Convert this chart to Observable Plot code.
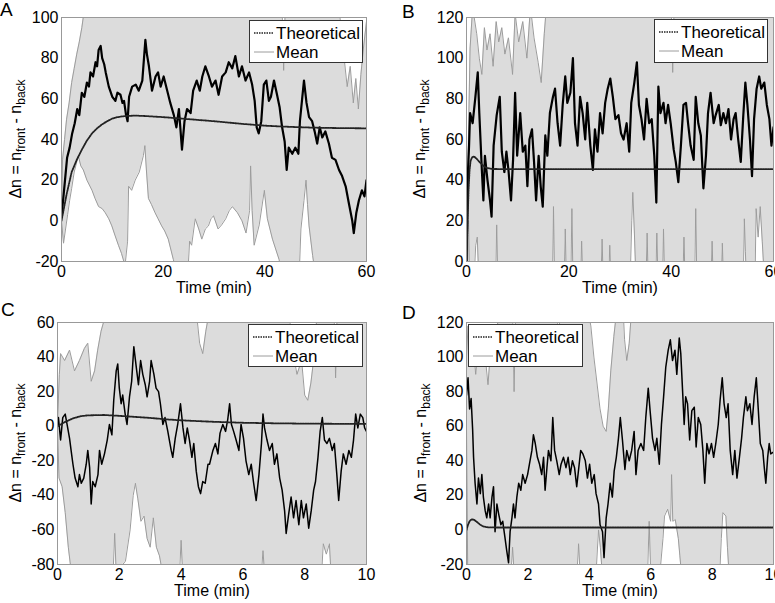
<!DOCTYPE html>
<html>
<head>
<meta charset="utf-8">
<script src="https://cdn.jsdelivr.net/npm/d3@7"></script>
<script src="https://cdn.jsdelivr.net/npm/@observablehq/plot@0.6"></script>
<style>
  body { margin: 0; background: #fff; font-family: "Liberation Sans", Arial, sans-serif; }
  #root { position: relative; width: 775px; height: 603px; overflow: hidden; }
  .panel { position: absolute; }
  .tag { position: absolute; font-size: 19px; line-height: 19px; color: #000; }
</style>
</head>
<body>
<div id="root"></div>
<script>
// ---- Panel A: 60 min run ----------------------------------------------
const meanA = [[0,2],[0.5,15],[1.1,31],[1.6,36],[2.1,43],[2.6,48],[3.1,55],[3.5,52],[4,63],[4.5,61],[5,68],[5.4,66],[5.7,73],[6.2,71],[6.7,78],[7,76],[7.3,84],[7.7,86],[8,80],[8.4,77],[8.7,73],[9.3,66],[10,61],[10.6,59],[11,63],[11.6,62],[12,58],[12.3,59],[12.7,52],[13,49],[13.3,61],[13.9,66],[14.6,67],[15.2,64],[15.9,69],[16.5,89],[16.8,82],[17.2,76],[17.8,64],[18.5,71],[19,73],[19.5,66],[20.1,71],[20.8,64],[21.4,58],[22.1,52],[22.6,46],[23.1,55],[23.7,35],[24.2,49],[24.7,55],[25.4,53],[25.9,64],[26.6,69],[27.2,64],[27.7,71],[28.3,76],[29,71],[29.6,66],[30.3,69],[30.9,62],[31.6,71],[32.3,73],[32.9,78],[33.6,75],[34.2,81],[34.9,71],[35.5,76],[36.2,69],[36.9,73],[37.5,67],[38,59],[38.4,46],[38.8,43],[39.3,49],[39.8,67],[40.3,69],[40.8,59],[41.2,61],[41.8,69],[42.4,62],[42.9,56],[43.4,46],[43.9,39],[44.3,25],[44.7,36],[45.4,33],[46,36],[46.6,33],[46.9,49],[47.3,59],[47.7,69],[48.2,58],[48.7,51],[49.3,49],[49.8,44],[50.3,38],[50.8,46],[51.3,41],[51.9,44],[52.6,38],[53.2,31],[53.9,30],[54.6,25],[55.2,22],[55.9,17],[56.5,9],[57.2,0],[57.5,-6],[58,4],[58.5,10],[59.1,15],[59.6,12],[60,20]];
const theoryA = [[0,0],[1,13],[2,24],[3,30],[4,35],[5,39.5],[6,43],[7,45.5],[8,47.5],[9,49],[10,50.3],[11,51],[12,51.4],[13,51.6],[14,51.7],[15,51.7],[16,51.6],[18,51.3],[20,51],[25,50],[30,49],[35,47.8],[40,46.8],[45,46.2],[50,45.8],[55,45.6],[60,45.5]];
const upperA = [[0,0],[0.2,30],[0.6,40],[1,50],[1.5,58],[2,68],[2.5,75],[3,82],[3.5,88],[4,95],[4.5,104],[43.4,104],[43.7,74],[44,104],[54.6,104],[55,95],[55.6,80],[56.2,66],[56.8,76],[57.4,58],[57.9,70],[58.4,55],[58.9,72],[59.4,85],[60,98]];
const lowerA = [[0,0],[0.4,-11],[0.8,-4],[1.2,3],[1.6,10],[2,16],[2.5,24],[3,29],[3.3,32],[3.8,27],[4.3,25],[5,20],[6,15],[6.6,11],[7.3,7],[8,6],[8.6,4],[9.3,1],[9.9,-2.5],[10.5,-7],[11.2,-12],[11.8,-16],[12.5,-22],[13,-10],[13.2,17],[13.8,15],[14.5,20],[15.3,24],[16.1,32],[16.4,37],[16.7,25],[17.1,11],[17.7,8],[18.4,4],[19,1],[19.7,-2.5],[20.3,-5],[21,-9],[22,-19],[22.5,-24],[24.9,-24],[25.2,-10],[25.6,-12],[26.3,1],[27,-4],[27.6,-9],[28.3,-4],[28.9,-2.5],[29.4,1],[29.9,2.5],[30.8,-4],[31.5,-2],[32.3,1],[33,5],[33.6,7],[34.6,4],[35.5,0],[36.3,-6],[37,5],[37.2,27],[37.5,5],[37.9,-12],[38.9,-2],[39.9,15],[40.5,1],[41.5,-9],[42.8,-19],[43.2,-24],[46.8,-24],[47.1,-4],[47.7,10],[48.1,20],[48.4,8],[48.7,-2.5],[49.4,-17],[49.8,-24],[60,-24]];

// ---- Panel B: 60 min run ----------------------------------------------
const meanB = [[0,0],[0.15,25],[0.3,45],[0.5,57],[0.7,73],[1.2,68],[1.7,80],[2.2,93],[2.5,73],[3,45],[3.3,30],[3.6,52],[4.1,40],[4.6,30],[4.9,22],[5.3,57],[5.9,72],[6.5,81],[6.9,54],[7.4,44],[7.8,54],[8.2,45],[8.7,30],[9.1,50],[9.5,83],[9.9,52],[10.5,73],[11,54],[11.5,57],[11.9,37],[12.3,60],[12.8,65],[13.2,49],[13.6,30],[14.1,52],[14.5,37],[14.9,27],[15.4,62],[15.8,52],[16.3,73],[16.9,81],[17.3,85],[17.8,68],[18.3,57],[18.8,77],[19.3,91],[19.7,78],[20.3,83],[20.8,100],[21.2,68],[21.7,57],[22.2,81],[22.7,73],[23.2,60],[23.6,78],[24.2,57],[24.7,45],[25.1,65],[25.6,54],[26.1,73],[26.6,63],[27.1,78],[27.6,85],[28.1,90],[28.6,81],[29.1,70],[29.7,72],[30.2,63],[30.7,60],[31.3,68],[31.8,54],[32.2,78],[32.8,88],[33.3,98],[33.7,77],[34.2,70],[34.7,60],[35.2,80],[35.7,68],[36.2,70],[36.7,52],[37.1,29],[37.5,86],[37.9,73],[38.5,78],[38.9,68],[39.4,77],[39.9,68],[40.5,55],[40.9,49],[41.4,39],[41.9,57],[42.4,77],[42.9,78],[43.3,68],[43.8,57],[44.4,50],[44.8,81],[45.3,68],[45.8,62],[46.3,36],[46.8,52],[47.2,73],[47.7,83],[48.3,68],[48.7,72],[49.3,77],[49.7,67],[50.2,73],[50.7,68],[51.2,75],[51.7,60],[52.2,70],[52.6,73],[53.1,60],[53.6,49],[54.1,72],[54.5,88],[54.9,77],[55.4,60],[55.8,42],[56.2,70],[56.7,85],[57.2,91],[57.6,85],[58.2,88],[58.7,77],[59.2,70],[59.6,57],[60,66]];
const theoryB = [[0,0],[0.2,18],[0.4,35],[0.6,45],[0.8,49.5],[1.1,51.3],[1.5,51.6],[2,50.5],[2.5,49],[3,47.8],[3.5,46.7],[4,46],[5,45.5],[10,45.4],[60,45.4]];
const upperB = [[0,0],[0.3,50],[0.7,105],[1.2,125],[2,112],[2.5,100],[3,92],[3.5,115],[4,104],[4.6,112],[5.2,96],[5.8,118],[6.3,108],[6.9,115],[7.5,102],[8.2,110],[9,92],[9.5,122],[10.2,108],[11,118],[11.8,100],[12.5,125],[13.2,110],[14,98],[14.6,88],[15.2,112],[15.7,128],[40,128],[40.3,93],[40.6,128],[60,128]];
const lowerB = [[0,0],[0.2,-5],[0.4,20],[0.6,-8],[1.5,-8],[1.8,8],[2.1,12],[2.4,-8],[5.7,-8],[5.9,18],[6.1,-8],[16.8,-8],[17,27],[17.2,-8],[19.1,-8],[19.3,16],[19.5,-8],[20.4,-8],[20.6,26],[20.8,-8],[22.3,-8],[22.5,10],[22.7,-8],[26.3,-8],[26.5,11],[26.7,-8],[27.8,-8],[28,8],[28.2,-8],[32,-8],[32.3,20],[32.5,34],[32.8,15],[33.1,-8],[35.1,-8],[35.3,14],[35.5,-8],[37,-8],[37.2,14],[37.4,-8],[38.3,-8],[38.5,16],[38.7,-8],[42.3,-8],[42.5,12],[42.7,-8],[44.6,-8],[44.8,26],[45,-8],[47.8,-8],[48,10],[48.2,-8],[49.8,-8],[50,9],[50.2,-8],[54.1,-8],[54.3,21],[54.5,5],[54.7,-8],[56.4,-8],[56.6,26],[57,12],[57.4,27],[57.8,10],[58.2,-8],[60,-8]];

// ---- Panel C: 10 min run ----------------------------------------------
const meanC = [[0,0],[0.03,5],[0.1,-8],[0.17,5],[0.25,7],[0.33,-1],[0.39,-7],[0.44,-14],[0.5,-22],[0.57,-30],[0.66,-35],[0.71,-28],[0.77,-33],[0.85,-30],[0.93,-22],[0.98,-14],[1.04,-24],[1.09,-45],[1.14,-32],[1.22,-35],[1.31,-28],[1.36,-14],[1.43,-22],[1.52,-16],[1.61,-8],[1.68,1],[1.76,-5],[1.82,15],[1.9,32],[1.95,36],[2,22],[2.06,13],[2.11,18],[2.19,7],[2.25,1],[2.33,17],[2.4,26],[2.47,46],[2.55,34],[2.62,24],[2.69,38],[2.76,30],[2.84,24],[2.9,17],[2.98,26],[3.03,38],[3.12,30],[3.19,22],[3.27,20],[3.33,13],[3.41,1],[3.48,5],[3.57,-3],[3.62,-8],[3.68,-14],[3.73,-18],[3.81,-7],[3.89,1],[3.98,13],[4.06,-1],[4.13,-10],[4.2,-1],[4.27,-8],[4.35,-18],[4.41,-10],[4.49,-26],[4.56,-35],[4.63,-39],[4.7,-32],[4.78,-33],[4.87,-22],[4.92,-22],[5.03,-14],[5.11,-10],[5.19,-16],[5.26,-4],[5.35,1],[5.44,-3],[5.51,4],[5.57,13],[5.63,1],[5.7,-3],[5.78,-8],[5.87,-14],[5.94,1],[6.02,-7],[6.1,-20],[6.19,-28],[6.27,-22],[6.34,-32],[6.43,-43],[6.52,-28],[6.6,-10],[6.65,7],[6.7,-1],[6.78,-8],[6.86,-14],[6.95,-10],[7.02,-22],[7.1,-16],[7.19,-30],[7.27,-37],[7.35,-49],[7.4,-62],[7.48,-51],[7.56,-41],[7.64,-53],[7.72,-43],[7.81,-57],[7.89,-43],[7.96,-53],[8.05,-45],[8.13,-59],[8.21,-49],[8.29,-37],[8.35,-32],[8.43,-18],[8.5,-3],[8.57,5],[8.64,-8],[8.72,-10],[8.8,-7],[8.89,-14],[8.96,-10],[9.04,-28],[9.1,-43],[9.18,-26],[9.25,-16],[9.34,-22],[9.43,-14],[9.51,-18],[9.58,-8],[9.65,7],[9.72,-1],[9.8,7],[9.88,5],[9.94,-1],[10,-3]];
const theoryC = [[0,0],[0.25,2.5],[0.5,4.5],[0.75,5.8],[1,6.3],[1.5,6.5],[2,6],[2.5,5.4],[3,4.8],[3.5,4],[4,3.4],[5,2.6],[6,2],[7,1.7],[8,1.5],[9,1.4],[10,1.3]];
const upperC = [[0,2],[0.06,30],[0.1,42],[0.23,38],[0.39,44],[0.55,32],[0.71,38],[0.87,45],[0.98,48],[1.09,26],[1.2,32],[1.3,44],[1.41,55],[1.52,62],[1.6,65],[4.5,65],[4.6,48],[4.7,42],[4.8,55],[4.9,65],[7.5,65],[7.6,45],[7.75,30],[7.9,38],[8,18],[8.1,15],[8.2,25],[8.3,40],[8.4,65],[8.95,65],[9,28],[9.05,65],[10,65]];
const lowerC = [[0,-1],[0.05,-30],[0.15,-35],[0.25,-50],[0.35,-70],[0.45,-85],[1.8,-85],[1.85,-62],[1.9,-85],[2.2,-78],[2.35,-60],[2.45,-40],[2.52,-33],[2.6,-42],[2.7,-55],[2.8,-52],[2.9,-65],[3,-70],[3.1,-53],[3.2,-70],[3.3,-75],[3.4,-85],[3.95,-85],[4,-66],[4.05,-85],[6.6,-85],[6.65,-72],[6.7,-85],[8.55,-85],[8.6,-68],[8.7,-74],[8.8,-68],[8.85,-85],[10,-85]];

// ---- Panel D: 10 min run ----------------------------------------------
const meanD = [[0,78],[0.05,88],[0.1,70],[0.15,76],[0.2,58],[0.23,42],[0.28,27],[0.34,15],[0.39,30],[0.45,21],[0.5,32],[0.55,19],[0.61,11],[0.66,7],[0.72,15],[0.77,7],[0.83,19],[0.88,25],[0.93,-1],[0.99,15],[1.05,9],[1.12,3],[1.18,5],[1.25,-4],[1.31,-12],[1.37,-19],[1.42,-1],[1.48,7],[1.53,15],[1.58,7],[1.64,19],[1.7,27],[1.77,23],[1.83,32],[1.91,27],[1.99,32],[2.05,38],[2.13,46],[2.18,55],[2.24,50],[2.31,42],[2.38,38],[2.45,32],[2.51,42],[2.56,23],[2.62,36],[2.67,46],[2.75,40],[2.81,65],[2.87,46],[2.94,40],[3.02,32],[3.08,38],[3.16,42],[3.24,36],[3.31,42],[3.38,32],[3.45,40],[3.52,36],[3.59,25],[3.67,38],[3.72,46],[3.79,44],[3.87,40],[3.94,30],[4.01,38],[4.08,27],[4.16,32],[4.22,21],[4.3,15],[4.35,3],[4.43,-1],[4.48,-16],[4.55,7],[4.61,15],[4.68,27],[4.75,19],[4.81,34],[4.88,42],[4.95,53],[5.01,65],[5.08,52],[5.16,35],[5.22,46],[5.3,40],[5.38,46],[5.46,57],[5.52,32],[5.59,46],[5.68,50],[5.77,46],[5.84,65],[5.92,82],[5.98,69],[6.06,53],[6.14,46],[6.2,53],[6.28,38],[6.35,61],[6.42,77],[6.49,94],[6.57,104],[6.64,110],[6.71,98],[6.79,104],[6.85,90],[6.93,111],[6.98,102],[7.04,80],[7.09,61],[7.14,77],[7.2,73],[7.27,52],[7.34,69],[7.42,71],[7.48,48],[7.55,65],[7.63,61],[7.7,46],[7.76,27],[7.83,50],[7.9,44],[7.98,50],[8.05,42],[8.12,50],[8.2,61],[8.26,75],[8.33,88],[8.39,73],[8.46,65],[8.52,73],[8.59,46],[8.67,32],[8.74,46],[8.81,30],[8.89,42],[8.96,53],[9.02,65],[9.1,77],[9.15,69],[9.23,73],[9.3,61],[9.37,77],[9.44,88],[9.5,71],[9.57,50],[9.65,46],[9.7,36],[9.75,27],[9.81,42],[9.86,50],[9.91,44],[10,45]];
const theoryD = [[0,0],[0.05,3],[0.1,5],[0.17,6.2],[0.25,5.8],[0.35,4.5],[0.45,3],[0.55,2],[0.7,1.5],[1,1.4],[10,1.4]];
const upperD = [[0,100],[0.05,118],[0.1,96],[0.2,108],[0.3,90],[0.4,112],[0.5,95],[0.6,102],[0.7,84],[0.8,108],[0.9,96],[1,118],[1.1,128],[1.5,128],[1.55,80],[1.6,128],[2.95,128],[3,106],[3.05,128],[3.95,128],[4.05,118],[4.15,100],[4.25,85],[4.35,70],[4.45,60],[4.55,57],[4.62,70],[4.7,92],[4.8,112],[4.9,128],[5.1,128],[5.15,110],[5.22,98],[5.3,108],[5.38,128],[10,128]];
const lowerD = [[0,60],[0.04,-25],[1.45,-25],[1.5,-10],[1.55,-25],[3.6,-25],[3.65,-8],[3.7,-25],[4.22,-25],[4.3,0],[4.36,-10],[4.42,-25],[5.9,-25],[5.95,5],[6,-25],[6.3,-25],[6.4,-5],[6.45,8],[6.55,12],[6.65,5],[6.68,32],[6.72,5],[6.8,6],[6.9,-5],[6.95,-15],[7,-25],[8.25,-25],[8.3,-5],[8.35,10],[8.45,8],[8.5,-10],[8.55,-25],[10,-25]];

// ---- Axis ticks ---------------------------------------------------------
const ticksLong = [0, 20, 40, 60];
const ticksShort = [0, 2, 4, 6, 8, 10];
const ticksYA = [-20, 0, 20, 40, 60, 80, 100];
const ticksYB = [0, 20, 40, 60, 80, 100, 120];
const ticksYC = [-80, -60, -40, -20, 0, 20, 40, 60];
const ticksYD = [-20, 0, 20, 40, 60, 80, 100, 120];

const legendLabels = ["Theoretical", "Mean"];

const BAND = "#dcdcdc";
const EDGE = "#9c9c9c";
const FONT = '"Liberation Sans", Arial, sans-serif';

const panels = [
  {tag: "A", left: 0, top: 0, width: 385, height: 300,
   margin: [17, 19, 39, 61], xDomain: [0, 60], yDomain: [-20, 100],
   xTicks: ticksLong, yTicks: ticksYA, runWidth: 2.2,
   mean: meanA, theory: theoryA, upper: upperA, lower: lowerA,
   legend: {x: 249, y: 20, w: 113, h: 42}, yLabelX: 21, tagPos: [0, 0]},
  {tag: "B", left: 385, top: 0, width: 390, height: 300,
   margin: [17, 2, 39, 81], xDomain: [0, 60], yDomain: [0, 120],
   xTicks: ticksLong, yTicks: ticksYB, runWidth: 2.2,
   mean: meanB, theory: theoryB, upper: upperB, lower: lowerB,
   legend: {x: 269, y: 19, w: 113, h: 43}, yLabelX: 40, tagPos: [402, 2]},
  {tag: "C", left: 0, top: 300, width: 385, height: 303,
   margin: [22, 19, 39, 57], xDomain: [0, 10], yDomain: [-80, 60],
   xTicks: ticksShort, yTicks: ticksYC, runWidth: 1.5,
   mean: meanC, theory: theoryC, upper: upperC, lower: lowerC,
   legend: {x: 248, y: 24, w: 114, h: 42}, yLabelX: 21, tagPos: [1, 300]},
  {tag: "D", left: 385, top: 300, width: 390, height: 303,
   margin: [22, 2, 39, 81], xDomain: [0, 10], yDomain: [-20, 120],
   xTicks: ticksShort, yTicks: ticksYD, runWidth: 1.5,
   mean: meanD, theory: theoryD, upper: upperD, lower: lowerD,
   legend: {x: 83, y: 24, w: 114, h: 42}, yLabelX: 41, tagPos: [402, 303]}
];

const root = document.getElementById("root");
const px = d => d[0];
const py = d => d[1];

for (const p of panels) {
  const [mt, mr, mb, ml] = p.margin;
  const [yMin, yMax] = p.yDomain;
  const svg = Plot.plot({
    width: p.width,
    height: p.height,
    marginTop: mt, marginRight: mr, marginBottom: mb, marginLeft: ml,
    style: {fontFamily: FONT, fontSize: "16px", background: "transparent", color: "#000"},
    x: {domain: p.xDomain, ticks: p.xTicks, tickSize: 0, tickPadding: 4,
        tickFormat: d => String(d), label: "Time (min)", labelAnchor: "center",
        labelOffset: 31, labelArrow: false},
    y: {domain: p.yDomain, ticks: p.yTicks, tickSize: 0, tickPadding: 3,
        tickFormat: d => String(d), label: null},
    marks: [
      // band between the lower and upper envelopes: grey background, white outside
      Plot.frame({fill: BAND, stroke: null}),
      Plot.areaY(p.upper, {x: px, y1: py, y2: () => yMax, fill: "#fff", clip: true}),
      Plot.areaY(p.lower, {x: px, y1: () => yMin, y2: py, fill: "#fff", clip: true}),
      Plot.line(p.upper, {x: px, y: py, stroke: EDGE, strokeWidth: 1, clip: true}),
      Plot.line(p.lower, {x: px, y: py, stroke: EDGE, strokeWidth: 1, clip: true}),
      // single trajectory
      Plot.line(p.mean, {x: px, y: py, stroke: "#000", strokeWidth: p.runWidth, clip: true}),
      // theoretical curve
      Plot.line(p.theory, {x: px, y: py, stroke: "#222", strokeWidth: 1.8, strokeDasharray: "1.5,1", clip: true}),
      Plot.frame({stroke: "#999", strokeWidth: 1})
    ]
  });

  const s = d3.select(svg);

  // y-axis title with subscripts
  const cy = mt + (p.height - mt - mb) / 2;
  const t = s.append("text")
    .attr("transform", `translate(${p.yLabelX},${cy}) rotate(-90)`)
    .attr("text-anchor", "middle")
    .attr("font-family", FONT)
    .attr("font-size", 16)
    .attr("fill", "#000");
  t.append("tspan").text("Δn = n");
  t.append("tspan").attr("font-size", 12).attr("dy", 4).text("front");
  t.append("tspan").attr("dy", -4).text(" - n");
  t.append("tspan").attr("font-size", 12).attr("dy", 4).text("back");

  // legend box
  const L = p.legend;
  const g = s.append("g")
    .attr("font-family", FONT).attr("font-size", 17).attr("text-anchor", "start");
  g.append("rect").attr("x", L.x + 0.5).attr("y", L.y + 0.5).attr("width", L.w).attr("height", L.h)
    .attr("fill", "#fff").attr("stroke", "#333").attr("stroke-width", 1);
  const row1 = L.y + 13, row2 = L.y + 32;
  g.append("line").attr("x1", L.x + 5).attr("x2", L.x + 25).attr("y1", row1).attr("y2", row1)
    .attr("stroke", "#222").attr("stroke-width", 1.6).attr("stroke-dasharray", "1.5,1");
  g.append("line").attr("x1", L.x + 5).attr("x2", L.x + 25).attr("y1", row2).attr("y2", row2)
    .attr("stroke", EDGE).attr("stroke-width", 1);
  g.append("text").attr("x", L.x + 27).attr("y", row1 + 6).text(legendLabels[0]);
  g.append("text").attr("x", L.x + 27).attr("y", row2 + 6).text(legendLabels[1]);

  const holder = document.createElement("div");
  holder.className = "panel";
  holder.style.left = p.left + "px";
  holder.style.top = p.top + "px";
  holder.appendChild(svg);
  root.appendChild(holder);

  const tag = document.createElement("div");
  tag.className = "tag";
  tag.style.left = p.tagPos[0] + "px";
  tag.style.top = p.tagPos[1] + "px";
  tag.textContent = p.tag;
  root.appendChild(tag);
}
</script>
</body>
</html>
